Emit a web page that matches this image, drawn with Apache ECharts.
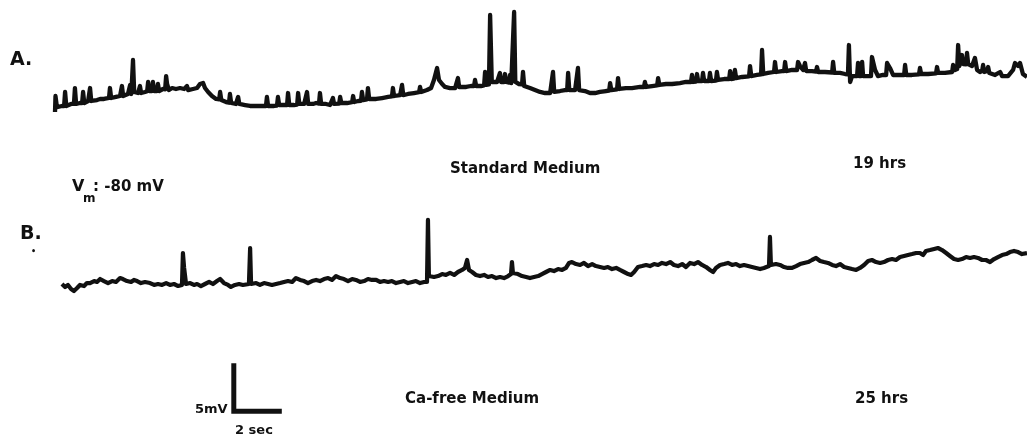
<!DOCTYPE html>
<html>
<head>
<meta charset="utf-8">
<script src="https://cdn.jsdelivr.net/npm/echarts@6/dist/echarts.min.js"></script>
<style>html,body{margin:0;padding:0;background:#fff;}#c{width:1027px;height:437px;}</style>
</head>
<body>
<div id="c"></div>
<script>
// Trace A: Standard Medium, 19 hrs  [time (s), membrane potential (mV)]
var traceA = [[0,-80.67],[0.02,-79.0],[0.08,-80.15],[0.29,-80.04],[0.38,-80.04],[0.42,-78.58],[0.47,-80.04],[0.67,-79.83],[0.79,-79.83],[0.83,-78.17],[0.88,-79.83],[1.04,-79.73],[1.13,-79.73],[1.17,-78.58],[1.22,-79.73],[1.38,-79.52],[1.42,-79.52],[1.46,-78.17],[1.51,-79.52],[1.75,-79.42],[1.88,-79.31],[2.04,-79.31],[2.25,-79.2],[2.29,-78.17],[2.34,-79.21],[2.54,-79.1],[2.71,-79.0],[2.75,-79.0],[2.79,-77.96],[2.84,-79.0],[3.04,-78.79],[3.09,-78.79],[3.13,-77.85],[3.18,-78.79],[3.21,-78.79],[3.25,-75.25],[3.3,-78.58],[3.46,-78.69],[3.5,-78.69],[3.54,-77.96],[3.59,-78.69],[3.75,-78.58],[3.84,-78.5],[3.88,-77.54],[3.93,-78.48],[4.04,-78.48],[4.08,-77.54],[4.13,-78.48],[4.25,-78.48],[4.29,-77.75],[4.34,-78.48],[4.5,-78.27],[4.59,-78.3],[4.63,-76.92],[4.67,-77.75],[4.75,-78.38],[4.88,-78.17],[5.04,-78.27],[5.21,-78.17],[5.38,-78.27],[5.46,-78.27],[5.5,-77.96],[5.55,-78.38],[5.75,-78.27],[5.92,-78.17],[6.0,-78.1],[6.04,-77.75],[6.17,-77.65],[6.25,-78.17],[6.38,-78.58],[6.54,-79.0],[6.71,-79.31],[6.84,-79.35],[6.88,-78.58],[6.93,-79.42],[7.13,-79.63],[7.25,-79.7],[7.29,-78.79],[7.34,-79.73],[7.54,-79.83],[7.59,-79.83],[7.63,-79.1],[7.68,-79.83],[7.92,-79.94],[8.13,-80.04],[8.38,-80.04],[8.63,-80.04],[8.79,-80.04],[8.83,-79.1],[8.88,-80.04],[9.13,-80.04],[9.25,-80.0],[9.29,-79.1],[9.34,-79.94],[9.58,-79.94],[9.67,-79.94],[9.71,-78.69],[9.76,-79.94],[9.96,-79.94],[10.09,-79.9],[10.13,-78.69],[10.18,-79.83],[10.38,-79.83],[10.46,-79.83],[10.5,-78.58],[10.55,-79.83],[10.75,-79.83],[10.88,-79.73],[11.0,-79.8],[11.04,-78.69],[11.09,-79.83],[11.29,-79.83],[11.46,-79.94],[11.54,-79.9],[11.58,-79.21],[11.63,-79.83],[11.84,-79.8],[11.88,-79.1],[11.93,-79.73],[12.17,-79.73],[12.38,-79.65],[12.42,-79.0],[12.47,-79.63],[12.63,-79.52],[12.75,-79.5],[12.79,-78.58],[12.84,-79.42],[13.0,-79.35],[13.04,-78.17],[13.09,-79.31],[13.38,-79.31],[13.63,-79.21],[13.88,-79.1],[14.04,-79.05],[14.08,-78.17],[14.13,-79.0],[14.38,-78.9],[14.42,-78.9],[14.46,-77.85],[14.51,-78.9],[14.71,-78.79],[14.96,-78.69],[15.17,-78.6],[15.21,-78.06],[15.26,-78.58],[15.5,-78.38],[15.67,-78.17],[15.79,-77.33],[15.92,-76.08],[16.0,-77.33],[16.13,-77.75],[16.25,-78.06],[16.46,-78.17],[16.67,-78.17],[16.75,-78.1],[16.79,-77.13],[16.84,-78.06],[17.13,-78.06],[17.33,-77.96],[17.46,-77.96],[17.5,-77.33],[17.55,-77.96],[17.75,-77.96],[17.88,-77.9],[17.92,-76.5],[17.97,-77.85],[18.08,-77.8],[18.13,-70.56],[18.2,-77.54],[18.42,-77.54],[18.5,-77.54],[18.54,-76.6],[18.59,-77.54],[18.71,-77.54],[18.75,-76.71],[18.8,-77.54],[18.92,-77.6],[18.96,-76.81],[19.01,-77.65],[19.09,-77.65],[19.13,-70.25],[19.18,-77.54],[19.33,-77.75],[19.46,-77.8],[19.5,-76.5],[19.55,-77.96],[19.79,-78.17],[20.0,-78.38],[20.21,-78.58],[20.42,-78.69],[20.63,-78.69],[20.71,-78.65],[20.75,-76.5],[20.8,-78.58],[21.04,-78.48],[21.25,-78.38],[21.34,-78.38],[21.38,-76.6],[21.43,-78.38],[21.67,-78.38],[21.75,-78.38],[21.79,-76.08],[21.84,-78.38],[22.08,-78.48],[22.29,-78.69],[22.5,-78.69],[22.71,-78.58],[22.96,-78.48],[23.09,-78.45],[23.13,-77.65],[23.18,-78.38],[23.42,-78.3],[23.46,-77.13],[23.51,-78.27],[23.79,-78.17],[24.04,-78.17],[24.38,-78.06],[24.54,-78.06],[24.58,-77.54],[24.63,-78.06],[24.88,-77.96],[25.09,-77.9],[25.13,-77.13],[25.18,-77.85],[25.46,-77.75],[25.71,-77.75],[26.04,-77.65],[26.29,-77.54],[26.5,-77.54],[26.54,-76.81],[26.59,-77.54],[26.71,-77.5],[26.75,-76.71],[26.8,-77.44],[26.96,-77.44],[27.0,-76.6],[27.05,-77.44],[27.25,-77.44],[27.29,-76.6],[27.34,-77.44],[27.54,-77.4],[27.58,-76.5],[27.63,-77.33],[27.88,-77.23],[28.09,-77.23],[28.13,-76.4],[28.18,-77.23],[28.29,-77.2],[28.33,-76.29],[28.38,-77.13],[28.63,-77.02],[28.92,-76.95],[28.96,-75.88],[29.01,-76.92],[29.25,-76.81],[29.42,-76.75],[29.46,-74.21],[29.51,-76.71],[29.71,-76.6],[29.96,-76.5],[30.0,-75.46],[30.05,-76.5],[30.29,-76.4],[30.38,-76.4],[30.42,-75.46],[30.47,-76.4],[30.71,-76.29],[30.92,-76.29],[30.96,-75.46],[31.04,-75.88],[31.17,-76.29],[31.21,-76.3],[31.25,-75.56],[31.3,-76.4],[31.54,-76.4],[31.71,-76.45],[31.75,-75.98],[31.8,-76.5],[32.08,-76.5],[32.38,-76.55],[32.42,-75.46],[32.47,-76.6],[32.71,-76.6],[32.92,-76.71],[33.04,-76.75],[33.08,-73.69],[33.13,-77.54],[33.21,-76.92],[33.42,-76.92],[33.46,-75.56],[33.5,-76.92],[33.59,-76.92],[33.63,-75.46],[33.67,-76.92],[33.88,-76.92],[34.0,-76.92],[34.04,-74.94],[34.17,-76.29],[34.29,-76.92],[34.5,-76.81],[34.63,-76.81],[34.67,-75.56],[34.79,-76.08],[34.92,-76.81],[35.13,-76.81],[35.38,-76.81],[35.42,-75.77],[35.47,-76.81],[35.71,-76.81],[36.0,-76.75],[36.04,-76.08],[36.09,-76.71],[36.38,-76.71],[36.71,-76.65],[36.75,-75.98],[36.8,-76.6],[37.08,-76.6],[37.38,-76.5],[37.42,-75.77],[37.5,-76.29],[37.59,-76.2],[37.63,-73.69],[37.68,-75.88],[37.75,-75.9],[37.79,-74.73],[37.84,-75.67],[37.96,-75.7],[38.0,-74.52],[38.05,-75.67],[38.21,-75.88],[38.29,-75.9],[38.33,-75.04],[38.42,-76.29],[38.54,-76.5],[38.63,-76.4],[38.67,-75.77],[38.72,-76.5],[38.84,-76.4],[38.88,-75.98],[38.93,-76.6],[39.17,-76.81],[39.38,-76.5],[39.46,-76.92],[39.71,-76.92],[39.92,-76.29],[40.0,-75.56],[40.13,-75.88],[40.21,-75.56],[40.33,-76.71],[40.5,-77.02]];

// Trace B: Ca-free Medium, 25 hrs  [time (s), membrane potential (mV)]
var traceB = [[0.29,-79.75],[0.42,-80.06],[0.54,-79.85],[0.67,-80.27],[0.79,-80.48],[0.92,-80.17],[1.04,-79.85],[1.21,-79.96],[1.33,-79.65],[1.46,-79.65],[1.63,-79.44],[1.75,-79.54],[1.88,-79.23],[2.04,-79.44],[2.21,-79.65],[2.38,-79.44],[2.54,-79.54],[2.71,-79.13],[2.83,-79.23],[3.0,-79.44],[3.17,-79.54],[3.29,-79.33],[3.42,-79.44],[3.58,-79.65],[3.75,-79.54],[3.96,-79.65],[4.13,-79.85],[4.29,-79.75],[4.46,-79.85],[4.63,-79.65],[4.79,-79.85],[4.96,-79.75],[5.13,-79.96],[5.29,-79.85],[5.33,-76.52],[5.38,-78.08],[5.46,-79.75],[5.63,-79.65],[5.79,-79.85],[5.92,-79.75],[6.08,-79.96],[6.25,-79.75],[6.42,-79.54],[6.58,-79.75],[6.75,-79.44],[6.88,-79.23],[7.04,-79.65],[7.21,-79.85],[7.33,-80.06],[7.5,-79.85],[7.67,-79.75],[7.83,-79.85],[8.08,-79.75],[8.13,-76.0],[8.17,-79.75],[8.38,-79.65],[8.54,-79.85],[8.71,-79.65],[8.88,-79.75],[9.04,-79.85],[9.21,-79.75],[9.38,-79.65],[9.54,-79.54],[9.71,-79.44],[9.88,-79.54],[10.04,-79.13],[10.21,-79.33],[10.38,-79.44],[10.54,-79.65],[10.71,-79.44],[10.88,-79.33],[11.04,-79.44],[11.21,-79.23],[11.38,-79.13],[11.54,-79.33],[11.71,-78.92],[11.88,-79.13],[12.04,-79.23],[12.21,-79.44],[12.38,-79.23],[12.54,-79.33],[12.71,-79.54],[12.88,-79.44],[13.04,-79.23],[13.21,-79.33],[13.38,-79.33],[13.54,-79.54],[13.71,-79.44],[13.88,-79.54],[14.04,-79.44],[14.21,-79.65],[14.38,-79.54],[14.54,-79.44],[14.71,-79.65],[14.88,-79.54],[15.04,-79.44],[15.21,-79.65],[15.38,-79.54],[15.5,-79.54],[15.54,-73.08],[15.58,-78.92],[15.79,-79.02],[15.96,-78.92],[16.13,-78.71],[16.29,-78.81],[16.46,-78.6],[16.63,-78.81],[16.79,-78.5],[16.96,-78.29],[17.08,-78.08],[17.17,-77.25],[17.25,-78.29],[17.38,-78.5],[17.54,-78.81],[17.71,-78.92],[17.88,-78.81],[18.04,-79.02],[18.21,-78.92],[18.38,-79.13],[18.54,-79.02],[18.71,-79.13],[18.88,-78.92],[19.0,-78.71],[19.04,-77.46],[19.08,-78.6],[19.29,-78.71],[19.46,-78.92],[19.63,-79.02],[19.79,-79.13],[19.96,-79.02],[20.13,-78.92],[20.29,-78.71],[20.46,-78.5],[20.63,-78.29],[20.79,-78.4],[20.96,-78.19],[21.13,-78.29],[21.29,-78.08],[21.42,-77.56],[21.54,-77.46],[21.71,-77.67],[21.88,-77.77],[22.04,-77.56],[22.21,-77.88],[22.38,-77.67],[22.54,-77.88],[22.71,-77.98],[22.88,-78.08],[23.04,-77.98],[23.21,-78.19],[23.38,-78.08],[23.54,-78.29],[23.71,-78.5],[23.88,-78.71],[24.0,-78.81],[24.13,-78.5],[24.29,-77.98],[24.46,-77.88],[24.63,-77.77],[24.79,-77.88],[24.96,-77.67],[25.13,-77.77],[25.29,-77.56],[25.46,-77.67],[25.63,-77.46],[25.79,-77.77],[25.96,-77.88],[26.13,-77.67],[26.29,-77.98],[26.46,-77.56],[26.63,-77.67],[26.79,-77.46],[26.96,-77.77],[27.13,-77.98],[27.29,-78.29],[27.42,-78.5],[27.54,-78.08],[27.71,-77.77],[27.88,-77.67],[28.04,-77.56],[28.21,-77.77],[28.38,-77.67],[28.54,-77.88],[28.71,-77.77],[28.88,-77.88],[29.04,-77.98],[29.21,-78.08],[29.38,-78.19],[29.54,-78.08],[29.75,-77.88],[29.79,-74.85],[29.83,-77.77],[30.04,-77.67],[30.21,-77.77],[30.38,-77.98],[30.54,-78.08],[30.71,-78.08],[30.88,-77.88],[31.04,-77.67],[31.21,-77.56],[31.38,-77.46],[31.54,-77.25],[31.71,-77.04],[31.88,-77.35],[32.04,-77.46],[32.21,-77.56],[32.38,-77.77],[32.54,-77.88],[32.71,-77.67],[32.88,-77.98],[33.04,-78.08],[33.21,-78.19],[33.38,-78.29],[33.54,-78.08],[33.71,-77.77],[33.88,-77.35],[34.04,-77.25],[34.21,-77.46],[34.38,-77.56],[34.54,-77.46],[34.71,-77.25],[34.88,-77.15],[35.04,-77.25],[35.21,-76.94],[35.38,-76.83],[35.54,-76.73],[35.71,-76.63],[35.88,-76.52],[36.04,-76.52],[36.17,-76.73],[36.29,-76.31],[36.46,-76.21],[36.63,-76.1],[36.79,-76.0],[36.96,-76.21],[37.13,-76.52],[37.29,-76.83],[37.46,-77.15],[37.63,-77.25],[37.79,-77.15],[37.96,-76.94],[38.13,-77.04],[38.29,-76.94],[38.46,-77.04],[38.63,-77.25],[38.79,-77.25],[38.96,-77.46],[39.13,-77.15],[39.29,-76.94],[39.46,-76.73],[39.63,-76.63],[39.79,-76.42],[39.96,-76.31],[40.13,-76.42],[40.29,-76.63],[40.5,-76.52]];

// Calibration bar: 5 mV vertical, 2 sec horizontal
var scaleBar = [[7.45,-88],[7.45,-93],[9.45,-93]];

var labels = {
  a: 'A.', b: 'B.', vm: 'V', vmSub: 'm', vmVal: ': -80 mV',
  mediumA: 'Standard Medium', timeA: '19 hrs',
  mediumB: 'Ca-free Medium', timeB: '25 hrs',
  barV: '5mV', barT: '2 sec'
};

var ink = '#111';
var F = '"DejaVu Sans", "Liberation Sans", sans-serif';
function txt(t, x, y, size) {
  return { type: 'text', x: x, y: y, silent: true,
    style: { text: t, font: 'bold ' + size + 'px ' + F, fill: ink, textAlign: 'left', textVerticalAlign: 'middle' } };
}

var chart = echarts.init(document.getElementById('c'), null, { renderer: 'canvas' });
chart.setOption({
  animation: false,
  backgroundColor: '#fff',
  grid: [
    { left: 55, width: 972, top: 0, height: 144 },
    { left: 55, width: 972, top: 200, height: 237 }
  ],
  xAxis: [
    { type: 'value', gridIndex: 0, min: 0, max: 40.5, show: false },
    { type: 'value', gridIndex: 1, min: 0, max: 40.5, show: false }
  ],
  yAxis: [
    { type: 'value', gridIndex: 0, min: -84, max: -69, show: false },
    { type: 'value', gridIndex: 1, min: -95.6875, max: -71, show: false }
  ],
  series: [
    { type: 'line', xAxisIndex: 0, yAxisIndex: 0, data: traceA, symbol: 'none', clip: false,
      lineStyle: { color: ink, width: 4.3, join: 'round' } },
    { type: 'line', xAxisIndex: 1, yAxisIndex: 1, data: traceB, symbol: 'none', clip: false,
      lineStyle: { color: ink, width: 4.2, join: 'round' } },
    { type: 'line', xAxisIndex: 1, yAxisIndex: 1, data: scaleBar, symbol: 'none', clip: false,
      lineStyle: { color: ink, width: 5, join: 'miter', cap: 'butt' } }
  ],
  graphic: [
    txt(labels.a, 10, 60, 19),
    txt(labels.b, 20, 234, 19),
    txt('•', 31, 252, 8),
    txt(labels.vm, 72, 187, 16),
    txt(labels.vmSub, 83, 199, 12),
    txt(labels.vmVal, 93, 187, 15),
    txt(labels.mediumA, 450, 169, 15),
    txt(labels.timeA, 853, 164, 15),
    txt(labels.mediumB, 405, 399, 15),
    txt(labels.timeB, 855, 399, 15),
    txt(labels.barV, 195, 410, 13),
    txt(labels.barT, 235, 431, 13)
  ]
});
</script>
</body>
</html>
